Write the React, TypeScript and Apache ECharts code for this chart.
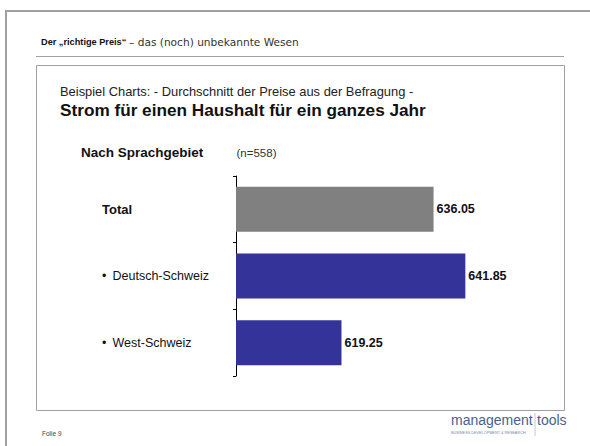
import React, { useEffect, useRef } from "react";
import * as echarts from "echarts";

const categories = ["Total", "Deutsch-Schweiz", "West-Schweiz"];
const values = [636.05, 641.85, 619.25];
const axisMin = 600;
const axisMax = 650;
const sampleSize = 558;

const headerBold = "Der \u201Erichtige Preis\u201C";
const headerRest = "\u2013 das (noch) unbekannte Wesen";
const subtitle = "Beispiel Charts: - Durchschnitt der Preise aus der Befragung -";
const title = "Strom f\u00FCr einen Haushalt f\u00FCr ein ganzes Jahr";
const groupLabel = "Nach Sprachgebiet";
const footer = "Folie 9";

const FONT = "'Liberation Sans', Arial, sans-serif";
const GRAY = "#808080";
const BLUE = "#333399";
const FRAME = "#a0a0a0";

export default function App() {
  const ref = useRef<HTMLDivElement>(null);
  useEffect(() => {
    if (!ref.current) return;
    const chart = echarts.init(ref.current, undefined, { renderer: "svg" });
    chart.setOption({
      animation: false,
      backgroundColor: "#ffffff",
      textStyle: { fontFamily: FONT },
      grid: { left: 236, top: 176, width: 274, height: 200, containLabel: false },
      xAxis: {
        type: "value",
        min: axisMin,
        max: axisMax,
        show: false,
        splitLine: { show: false },
      },
      yAxis: {
        type: "category",
        data: categories,
        inverse: true,
        axisLine: { show: true, lineStyle: { color: "#000", width: 1 } },
        axisTick: { show: true, length: 3, lineStyle: { color: "#000", width: 1 } },
        axisLabel: {
          margin: 134,
          align: "left",
          formatter: (v: string, i: number) =>
            i === 0 ? `{total|${v}}` : `{dot|\u2022}{reg|${v}}`,
          rich: {
            total: { fontFamily: FONT, fontSize: 13, fontWeight: "bold", color: "#111" },
            dot: { fontFamily: FONT, fontSize: 12.5, color: "#111", width: 10.5 },
            reg: { fontFamily: FONT, fontSize: 12.5, color: "#111" },
          },
        },
      },
      series: [
        {
          type: "bar",
          barWidth: 45,
          data: values.map((v, i) => ({
            value: v,
            itemStyle: { color: i === 0 ? GRAY : BLUE },
          })),
          label: {
            show: true,
            position: "right",
            distance: 3,
            fontFamily: FONT,
            fontSize: 12.5,
            fontWeight: "bold",
            color: "#111",
            formatter: (p: any) => Number(p.value).toFixed(2),
          },
        },
      ],
      graphic: [
        { type: "line", shape: { x1: 5, y1: 11, x2: 590, y2: 11 }, style: { stroke: FRAME, lineWidth: 2 } },
        { type: "line", shape: { x1: 6, y1: 10, x2: 6, y2: 446 }, style: { stroke: FRAME, lineWidth: 2 } },
        {
          type: "text",
          x: 41,
          y: 41.5,
          style: { text: headerBold, fontFamily: FONT, fontSize: 9.2, fontWeight: "bold", fill: "#111", verticalAlign: "middle" },
        },
        {
          type: "text",
          x: 129,
          y: 41.5,
          style: { text: headerRest, fontFamily: "'DejaVu Sans', sans-serif", fontSize: 10.6, fill: "#333", verticalAlign: "middle" },
        },
        { type: "line", shape: { x1: 36, y1: 56.5, x2: 564, y2: 56.5 }, style: { stroke: FRAME, lineWidth: 1 } },
        {
          type: "rect",
          shape: { x: 36.5, y: 65.5, width: 528, height: 345 },
          style: { fill: "none", stroke: FRAME, lineWidth: 1 },
        },
        {
          type: "text",
          x: 60,
          y: 91,
          style: { text: subtitle, fontFamily: FONT, fontSize: 12.9, fill: "#222", verticalAlign: "middle" },
        },
        {
          type: "text",
          x: 60,
          y: 109.5,
          style: { text: title, fontFamily: FONT, fontSize: 17.2, fontWeight: "bold", fill: "#111", verticalAlign: "middle" },
        },
        {
          type: "text",
          x: 81,
          y: 152,
          style: { text: groupLabel, fontFamily: FONT, fontSize: 13.5, fontWeight: "bold", fill: "#111", verticalAlign: "middle" },
        },
        {
          type: "text",
          x: 236.5,
          y: 152.5,
          style: { text: `(n=${sampleSize})`, fontFamily: FONT, fontSize: 11.5, fill: "#333", verticalAlign: "middle" },
        },
        {
          type: "text",
          x: 42,
          y: 433,
          style: { text: footer, fontFamily: FONT, fontSize: 6.5, fill: "#444", verticalAlign: "middle" },
        },
        {
          type: "text",
          x: 451,
          y: 420,
          style: { text: "management", fontFamily: FONT, fontSize: 14, fill: "#4a5f8f", verticalAlign: "middle" },
        },
        { type: "line", shape: { x1: 535, y1: 413, x2: 535, y2: 436 }, style: { stroke: "#c8c8c8", lineWidth: 1 } },
        {
          type: "text",
          x: 537,
          y: 420,
          style: { text: "tools", fontFamily: FONT, fontSize: 14, fill: "#4a5f8f", verticalAlign: "middle" },
        },
        {
          type: "text",
          x: 451,
          y: 432.5,
          style: { text: "BUSINESS DEVELOPMENT & RESEARCH", fontFamily: FONT, fontSize: 3.8, fill: "#7a88a8", verticalAlign: "middle" },
        },
      ],
    });
    return () => chart.dispose();
  }, []);
  return (
    <div
      ref={ref}
      style={{ position: "absolute", left: 0, top: 0, width: 590, height: 446, background: "#fff" }}
    />
  );
}
